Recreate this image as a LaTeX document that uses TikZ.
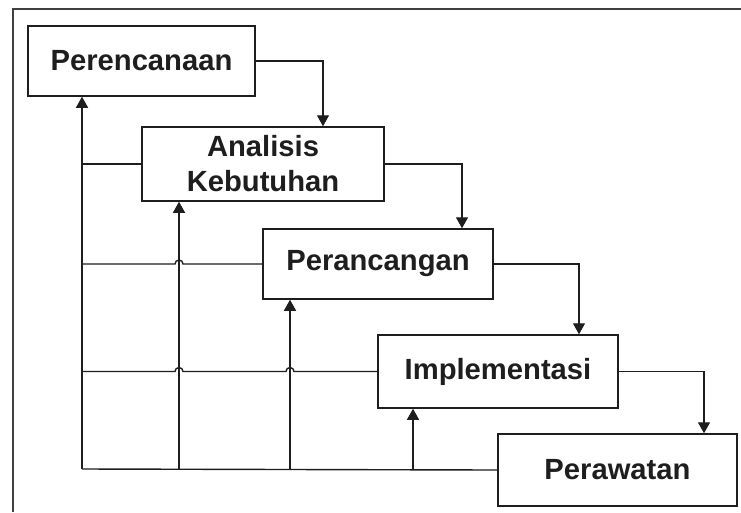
\documentclass[tikz,border=0pt]{standalone}
\usepackage{fontspec}
\setmainfont{Liberation Sans}
\usetikzlibrary{arrows.meta}
\definecolor{ink}{HTML}{1E1E1E}
\begin{document}
\begin{tikzpicture}[x=1pt,y=-1pt,
  phase/.style={draw=ink,line width=1.5pt,fill=white,inner sep=0pt,align=center,
    font=\fontsize{29.2}{35}\selectfont\bfseries,text=ink},
  link/.style={draw=ink,line width=1.4pt},
  arr/.style={link,-{Triangle[width=12pt,length=11pt]}}]
\useasboundingbox (0,0) rectangle (741,512);
\fill[white] (0,0) rectangle (741,512);
\draw[ink!85,line width=1.5pt] (13,512) -- (13,9) -- (741,9);
% phases
\node[phase,minimum width=227pt,minimum height=70pt] (p) at (141.5,61) {Perencanaan};
\node[phase,minimum width=242pt,minimum height=74pt] (a) at (263,164) {Analisis\\Kebutuhan};
\node[phase,minimum width=230pt,minimum height=70pt] (c) at (378,264) {Perancangan};
\node[phase,minimum width=240pt,minimum height=73pt] (i) at (498,371.5) {Implementasi};
\node[phase,minimum width=239pt,minimum height=72pt] (w) at (617.5,470) {Perawatan};
% forward flow
\draw[arr] (p.east) -| ([xshift=60pt]a.north);
\draw[arr] (a.east) -| ([xshift=84pt]c.north);
\draw[arr] (c.east) -| ([xshift=81pt]i.north);
\draw[arr] (i.east) -| ([xshift=86.5pt]w.north);
% feedback trunk and risers
\coordinate (t) at (82,469);
\coordinate (r1) at (179,469);
\coordinate (r2) at (290,469);
\coordinate (r3) at (413,469);
\draw[link] (w.west) -- (t);
\draw[arr] (t) -- (p.south -| t);
\draw[arr] (r1) -- (a.south -| r1);
\draw[arr] (r2) -- (c.south -| r2);
\draw[arr] (r3) -- (i.south -| r3);
% branches with hops
\draw[link] (a.west) -- (a.west -| t);
\draw[link] (c.west) -- ([xshift=4pt]c.west -| r1) arc[start angle=0,end angle=180,radius=4pt] -- (c.west -| t);
\draw[link] (i.west) -- ([xshift=4pt]i.west -| r2) arc[start angle=0,end angle=180,radius=4pt]
  -- ([xshift=4pt]i.west -| r1) arc[start angle=0,end angle=180,radius=4pt] -- (i.west -| t);
\end{tikzpicture}
\end{document}
